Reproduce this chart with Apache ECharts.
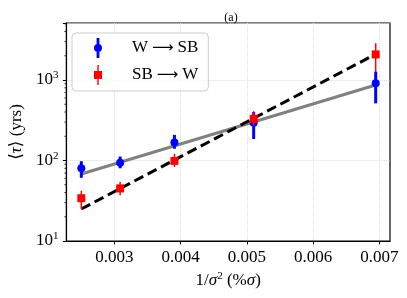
<!DOCTYPE html>
<html><head><meta charset="utf-8">
<script src="https://cdn.jsdelivr.net/npm/echarts@6/dist/echarts.min.js"></script>
<style>html,body{margin:0;padding:0;background:#fff}#c{width:407px;height:298px}</style>
</head><body><div id="c"></div>
<script>
// data
const xVals = [0.0025, 0.003086, 0.003906, 0.005102, 0.006944];
const wsbVals = [80, 94, 168, 295, 910];
const wsbLo = [61, 80, 140, 185, 513];
const wsbHi = [98, 112, 208, 400, 1268];
const sbwVals = [34, 45, 99, 330, 2080];
const sbwLo = [25, 37, 83, 270, 1250];
const sbwHi = [42, 54, 121, 410, 2860];
const fitX = [0.0025, 0.006944];
const fitWsb = [68, 866];
const fitSbw = [25, 2100];
const xTicks = [0.003, 0.004, 0.005, 0.006, 0.007];
const yMinor = [20,30,40,50,60,70,80,90,200,300,400,500,600,700,800,900,2000,3000,4000,5000];
const names = ['W \u2192 SB', 'SB \u2192 W'];

const X_MIN = 0.002275, X_MAX = 0.00716, Y_MIN = 10, Y_MAX = 5110;
const FONT = '"Liberation Serif", "DejaVu Serif", serif';

function errSeries(name, vals, lo, hi, color, width, z) {
  return {
    type: 'custom', name: name, z: z, silent: true,
    data: xVals.map((x, i) => [x, lo[i], hi[i]]),
    renderItem: function (params, api) {
      const a = api.coord([api.value(0), api.value(1)]);
      const b = api.coord([api.value(0), api.value(2)]);
      return { type: 'line', shape: { x1: a[0], y1: a[1], x2: b[0], y2: b[1] },
               style: { stroke: color, lineWidth: width } };
    }
  };
}

const chart = echarts.init(document.getElementById('c'));
chart.setOption({
  animation: false,
  title: { text: '(a)', left: 226, top: 7, textAlign: 'center',
    textStyle: { fontFamily: FONT, fontSize: 12, fontWeight: 'normal', color: '#000' } },
  grid: { left: 62, right: 17, top: 23, bottom: 57, show: true, borderColor: '#000', borderWidth: 1.2, containLabel: false },
  legend: {
    orient: 'vertical', left: 72, top: 33,
    padding: [5, 10, 6, 22], itemGap: 7, itemWidth: 10, itemHeight: 20,
    backgroundColor: 'rgba(255,255,255,0.8)', borderColor: '#ccc', borderWidth: 1, borderRadius: 4,
    data: [
      { name: names[0], icon: 'path://M3.6,0H6.4V20H3.6Z M1,10A4,4 0 1,1 9,10A4,4 0 1,1 1,10Z' },
      { name: names[1], icon: 'path://M4.3,0H5.7V20H4.3Z M1,6H9V14H1Z' }
    ],
    formatter: n => { const p = n.split(' \u2192 '); return '{t|' + p[0] + '}{a|\u27F6}{u|' + p[1] + '}'; },
    textStyle: { fontFamily: FONT, fontSize: 17, color: '#000',
      rich: { t: { fontFamily: FONT, fontSize: 17, color: '#000', padding: [0, 4, 0, 24] },
              a: { fontFamily: '"DejaVu Sans"', fontSize: 15, color: '#000' },
              u: { fontFamily: FONT, fontSize: 17, color: '#000', padding: [0, 0, 0, 4] } } }
  },
  xAxis: {
    type: 'value', min: X_MIN, max: X_MAX,
    name: '1/{i|\u03C3}{s|2} (%{i|\u03C3})', nameLocation: 'middle', nameGap: 30,
    nameTextStyle: { fontFamily: FONT, fontSize: 17, color: '#000',
      rich: { i: { fontFamily: FONT, fontSize: 17, fontStyle: 'italic', color: '#000' },
              s: { fontFamily: FONT, fontSize: 11, color: '#000', verticalAlign: 'top', padding: [0, 0, 8, 0] } } },
    axisLine: { show: true, lineStyle: { color: '#000', width: 1.2 } },
    axisTick: { show: true, length: 3.5, customValues: xTicks, lineStyle: { color: '#000' } },
    axisLabel: { customValues: xTicks, margin: 8, fontFamily: FONT, fontSize: 17, color: '#000',
      formatter: v => v.toFixed(3) },
    splitLine: { show: true, lineStyle: { color: '#ddd', type: 'dotted', width: 1 } }
  },
  yAxis: {
    type: 'log', logBase: 10, min: Y_MIN, max: Y_MAX,
    name: '\u27E8{i|\u03C4}\u27E9 (yrs)', nameLocation: 'middle', nameGap: 36,
    nameTextStyle: { fontFamily: FONT, fontSize: 17, color: '#000',
      rich: { i: { fontFamily: FONT, fontSize: 17, fontStyle: 'italic', color: '#000' } } },
    axisLine: { show: true, lineStyle: { color: '#000', width: 1.2 } },
    axisTick: { show: true, length: 3.5, lineStyle: { color: '#000' } },
    axisLabel: { margin: 8, fontFamily: FONT, fontSize: 17, color: '#000',
      formatter: v => { const e = Math.round(Math.log10(v)); return Math.abs(Math.pow(10, e) - v) < 1e-6 * v ? '10{s|' + e + '}' : ''; },
      rich: { s: { fontFamily: FONT, fontSize: 11, color: '#000', verticalAlign: 'top', padding: [0, 0, 9, 0] } } },
    splitLine: { show: true, lineStyle: { color: '#ddd', type: 'dotted', width: 1 } }
  },
  series: [
    { type: 'line', name: 'fit1', z: 1, symbol: 'none', silent: true,
      data: fitX.map((x, i) => [x, fitWsb[i]]), lineStyle: { color: '#808080', width: 3 } },
    { type: 'line', name: 'fit2', z: 1, symbol: 'none', silent: true,
      data: fitX.map((x, i) => [x, fitSbw[i]]), lineStyle: { color: '#000', width: 3, type: [10, 5] } },
    errSeries('errW', wsbVals, wsbLo, wsbHi, '#0000ff', 3, 2),
    { type: 'scatter', name: names[0], z: 3, symbol: 'circle', symbolSize: 8,
      itemStyle: { color: '#0000ff', opacity: 1 }, data: xVals.map((x, i) => [x, wsbVals[i]]) },
    errSeries('errS', sbwVals, sbwLo, sbwHi, '#ff0000', 1.5, 4),
    { type: 'scatter', name: names[1], z: 5, symbol: 'rect', symbolSize: 8,
      itemStyle: { color: '#ff0000', opacity: 1 }, data: xVals.map((x, i) => [x, sbwVals[i]]) },
    { type: 'custom', name: 'minor', z: 6, silent: true, clip: false,
      data: yMinor.map(v => [X_MIN, v]),
      renderItem: function (params, api) {
        const p = api.coord([api.value(0), api.value(1)]);
        return { type: 'line', shape: { x1: p[0], y1: p[1], x2: p[0] - 2, y2: p[1] },
                 style: { stroke: '#000', lineWidth: 0.8 } };
      } }
  ]
});
</script></body></html>
